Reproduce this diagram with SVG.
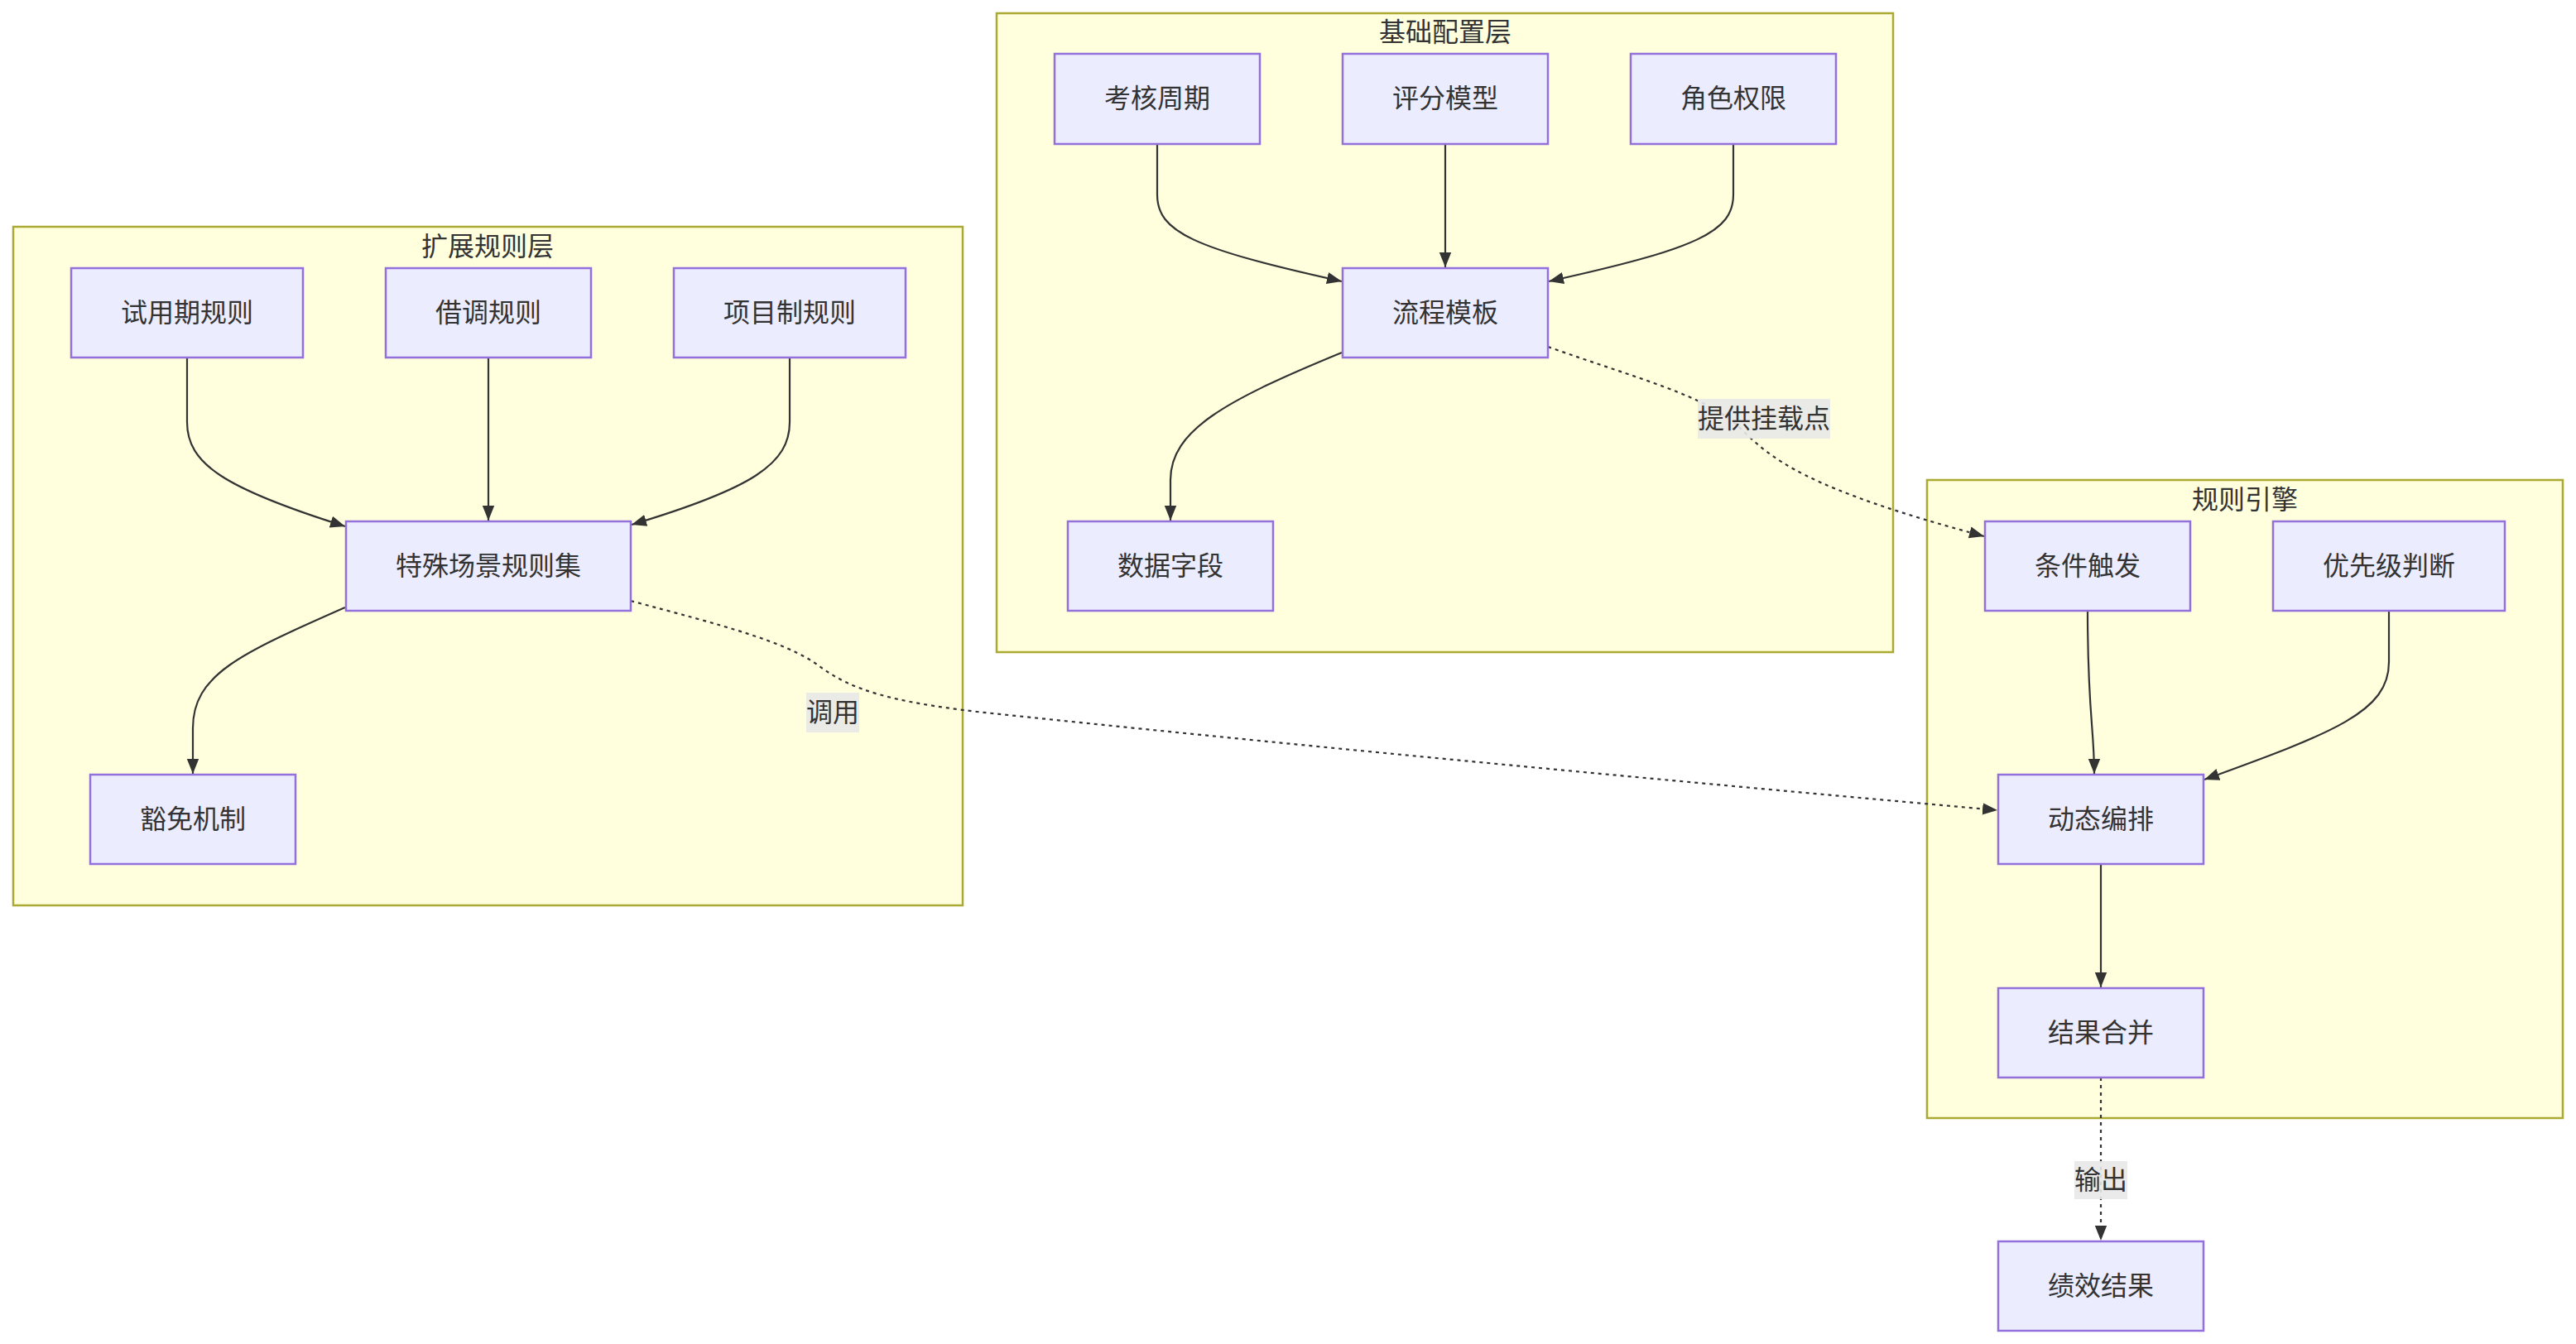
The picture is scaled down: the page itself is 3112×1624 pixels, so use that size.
<svg xmlns="http://www.w3.org/2000/svg" width="3112" height="1624" viewBox="0 0 3112 1624">
<style>
.cluster{fill:#ffffde;stroke:#aaaa33;stroke-width:2.5}
.node rect{fill:#ececff;stroke:#9370db;stroke-width:2.5}
text{font-family:"Liberation Sans","Noto Sans CJK SC",sans-serif;font-size:32px;fill:#333;text-anchor:middle;dominant-baseline:central}
.edge{fill:none;stroke:#333;stroke-width:2.2}
.dot{stroke-dasharray:4 5}
.lbl{fill:#e8e8e8;fill-opacity:0.9}
</style>
<defs>
<marker id="arr" viewBox="0 0 10 10" refX="10" refY="5" markerWidth="18" markerHeight="18" markerUnits="userSpaceOnUse" orient="auto">
<path d="M0,1 L10,5 L0,9 Z" fill="#333"/>
</marker>
</defs>
<rect width="3112" height="1624" fill="#fff"/>
<g id="clusters">
<g id="cluster-base"><rect class="cluster" x="1204" y="16" width="1083" height="772"/><text x="1746" y="39">基础配置层</text></g>
<g id="cluster-ext"><rect class="cluster" x="16" y="274" width="1147" height="820"/><text x="589" y="298">扩展规则层</text></g>
<g id="cluster-engine"><rect class="cluster" x="2328" y="580" width="768" height="771"/><text x="2712" y="604">规则引擎</text></g>
</g>
<g id="connectors">
<path class="edge" d="M1398,175 L1398,235 C1398,280 1440,300 1621,340" marker-end="url(#arr)"/>
<path class="edge" d="M1746,175 L1746,323" marker-end="url(#arr)"/>
<path class="edge" d="M2094,175 L2094,235 C2094,280 2052,300 1871,340" marker-end="url(#arr)"/>
<path class="edge" d="M1621,426 C1480,484 1414,520 1414,580 L1414,629" marker-end="url(#arr)"/>
<path class="edge" d="M226,432 L226,510 C226,560 270,590 417,636" marker-end="url(#arr)"/>
<path class="edge" d="M590,432 L590,629" marker-end="url(#arr)"/>
<path class="edge" d="M954,432 L954,510 C954,560 910,590 763,634" marker-end="url(#arr)"/>
<path class="edge" d="M417,734 C290,790 233,815 233,880 L233,935" marker-end="url(#arr)"/>
<path class="edge" d="M2522,738 C2522,860 2530,880 2530,935" marker-end="url(#arr)"/>
<path class="edge" d="M2886,738 L2886,800 C2886,860 2820,885 2663,942" marker-end="url(#arr)"/>
<path class="edge" d="M2538,1044 L2538,1193" marker-end="url(#arr)"/>
<path class="edge dot" d="M2538,1302 L2538,1499" marker-end="url(#arr)"/>
<path class="edge dot" d="M1870,419 C1980,458 2060,478 2100,515 C2140,555 2180,590 2397,648" marker-end="url(#arr)"/>
<path class="edge dot" d="M762,726 C870,755 950,775 990,805 C1030,835 1080,848 1180,860 Q1700,915 2413,979" marker-end="url(#arr)"/>
<g id="edge-labels">
<rect class="lbl" x="2051" y="482" width="160" height="48"/><text x="2131" y="506">提供挂载点</text>
<rect class="lbl" x="974" y="837" width="64" height="48"/><text x="1006" y="861">调用</text>
<rect class="lbl" x="2506" y="1403" width="64" height="46"/><text x="2538" y="1426">输出</text>
</g>
</g>
<g id="n-khzq" class="node"><rect x="1274" y="65" width="248" height="109"/><text x="1398" y="119">考核周期</text></g>
<g id="n-pfmx" class="node"><rect x="1622" y="65" width="248" height="109"/><text x="1746" y="119">评分模型</text></g>
<g id="n-jsqx" class="node"><rect x="1970" y="65" width="248" height="109"/><text x="2094" y="119">角色权限</text></g>
<g id="n-lcmb" class="node"><rect x="1622" y="324" width="248" height="108"/><text x="1746" y="378">流程模板</text></g>
<g id="n-sjzd" class="node"><rect x="1290" y="630" width="248" height="108"/><text x="1414" y="684">数据字段</text></g>
<g id="n-syqgz" class="node"><rect x="86" y="324" width="280" height="108"/><text x="226" y="378">试用期规则</text></g>
<g id="n-jdgz" class="node"><rect x="466" y="324" width="248" height="108"/><text x="590" y="378">借调规则</text></g>
<g id="n-xmzgz" class="node"><rect x="814" y="324" width="280" height="108"/><text x="954" y="378">项目制规则</text></g>
<g id="n-tscj" class="node"><rect x="418" y="630" width="344" height="108"/><text x="590" y="684">特殊场景规则集</text></g>
<g id="n-hmjz" class="node"><rect x="109" y="936" width="248" height="108"/><text x="233" y="990">豁免机制</text></g>
<g id="n-tjcf" class="node"><rect x="2398" y="630" width="248" height="108"/><text x="2522" y="684">条件触发</text></g>
<g id="n-yxjpd" class="node"><rect x="2746" y="630" width="280" height="108"/><text x="2886" y="684">优先级判断</text></g>
<g id="n-dtbp" class="node"><rect x="2414" y="936" width="248" height="108"/><text x="2538" y="990">动态编排</text></g>
<g id="n-jghb" class="node"><rect x="2414" y="1194" width="248" height="108"/><text x="2538" y="1248">结果合并</text></g>
<g id="n-jxjg" class="node"><rect x="2414" y="1500" width="248" height="108"/><text x="2538" y="1554">绩效结果</text></g>
</svg>
